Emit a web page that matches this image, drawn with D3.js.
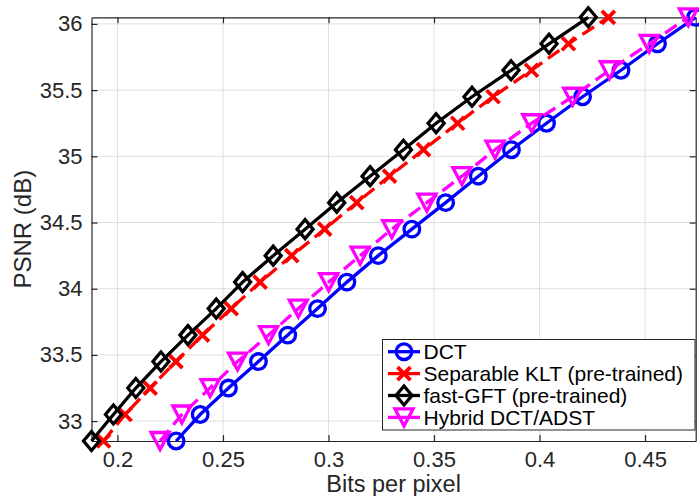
<!DOCTYPE html>
<html>
<head>
<style>
  html, body { margin: 0; padding: 0; background: #fff; }
  svg { font-family: "Liberation Sans", Arial, Helvetica, sans-serif; }
  .axis path, .axis line { stroke: #262626; stroke-width: 1.2; }
  .axis text { fill: #262626; font-size: 22px; }
</style>
</head>
<body>
<svg id="chart" width="699" height="496"></svg>
<script src="https://d3js.org/d3.v7.min.js"></script>
<script>
// PSNR levels (dB), shared by all four curves
const psnr = [32.85, 33.05, 33.25, 33.45, 33.65, 33.85, 34.05, 34.25, 34.45,
              34.65, 34.85, 35.05, 35.25, 35.45, 35.65, 35.85, 36.05];

// bits per pixel for each curve
const bppDCT = [0.2278, 0.2392, 0.2526, 0.2668, 0.2807, 0.2948, 0.3087, 0.3236, 0.3395,
                0.3555, 0.3710, 0.3867, 0.4033, 0.4204, 0.4386, 0.4559, 0.4740];
const bppKLT = [0.1934, 0.2036, 0.2155, 0.2277, 0.2403, 0.2539, 0.2676, 0.2826, 0.2982,
                0.3134, 0.3289, 0.3450, 0.3612, 0.3780, 0.3962, 0.4137, 0.4326];
const bppGFT = [0.1877, 0.1981, 0.2087, 0.2206, 0.2334, 0.2468, 0.2593, 0.2738, 0.2889,
                0.3039, 0.3197, 0.3355, 0.3510, 0.3680, 0.3865, 0.4045, 0.4231];
const bppHybrid = [0.2202, 0.2305, 0.2439, 0.2569, 0.2716, 0.2857, 0.3001, 0.3150, 0.3300,
                   0.3466, 0.3632, 0.3789, 0.3963, 0.4157, 0.4331, 0.4520, 0.4705];

const seriesNames = ["DCT", "Separable KLT (pre-trained)", "fast-GFT (pre-trained)", "Hybrid DCT/ADST"];
const xTicks = [0.2, 0.25, 0.3, 0.35, 0.4, 0.45];
const yTicks = [33, 33.5, 34, 34.5, 35, 35.5, 36];

const styles = [
  { color: "#0000ff", dash: null, marker: "circle" },
  { color: "#ff0000", dash: "14,7", marker: "cross" },
  { color: "#000000", dash: null, marker: "diamond" },
  { color: "#ff00ff", dash: "14,7", marker: "tri" }
];

const series = [bppDCT, bppKLT, bppGFT, bppHybrid].map((bpp, i) => ({
  name: seriesNames[i],
  style: styles[i],
  points: bpp.map((v, j) => ({ x: v, y: psnr[j] }))
}));

// plot box
const boxL = 91.5, boxR = 695.7, boxT = 17.3, boxB = 441;

const allX = [].concat(bppDCT, bppKLT, bppGFT, bppHybrid);
const x = d3.scaleLinear().domain(d3.extent(allX)).range([boxL, boxR]);
const y = d3.scaleLinear().domain(d3.extent(psnr)).range([boxB, boxT]);

const svg = d3.select("#chart");

// grid
svg.append("g").selectAll("line").data(xTicks).join("line")
  .attr("x1", d => x(d)).attr("x2", d => x(d))
  .attr("y1", boxT).attr("y2", boxB)
  .attr("stroke", "#dfdfdf").attr("stroke-width", 1);
svg.append("g").selectAll("line").data(yTicks).join("line")
  .attr("x1", boxL).attr("x2", boxR)
  .attr("y1", d => y(d)).attr("y2", d => y(d))
  .attr("stroke", "#dfdfdf").attr("stroke-width", 1);

// axes, ticks pointing inward on all four sides
svg.append("g").attr("class", "axis")
  .attr("transform", `translate(0,${boxB})`)
  .call(d3.axisBottom(x).tickValues(xTicks).tickFormat(d3.format("")).tickSizeInner(-6).tickSizeOuter(0).tickPadding(10));
svg.append("g").attr("class", "axis")
  .attr("transform", `translate(0,${boxT})`)
  .call(d3.axisTop(x).tickValues(xTicks).tickFormat("").tickSizeInner(-6).tickSizeOuter(0));
svg.append("g").attr("class", "axis")
  .attr("transform", `translate(${boxL},0)`)
  .call(d3.axisLeft(y).tickValues(yTicks).tickFormat(d3.format("")).tickSizeInner(-6).tickSizeOuter(0).tickPadding(9));
svg.append("g").attr("class", "axis")
  .attr("transform", `translate(${boxR},0)`)
  .call(d3.axisRight(y).tickValues(yTicks).tickFormat("").tickSizeInner(-6).tickSizeOuter(0));

// axis labels
svg.append("text")
  .attr("x", (boxL + boxR) / 2).attr("y", 492)
  .attr("text-anchor", "middle")
  .attr("fill", "#262626").style("font-size", "23.5px")
  .text("Bits per pixel");
svg.append("text")
  .attr("transform", `translate(31,${(boxT + boxB) / 2}) rotate(-90)`)
  .attr("text-anchor", "middle")
  .attr("fill", "#262626").style("font-size", "24px")
  .text("PSNR (dB)");

// marker shapes
function drawMarker(g, kind, color) {
  if (kind === "circle") {
    g.append("circle").attr("r", 7.8).attr("fill", "none")
      .attr("stroke", color).attr("stroke-width", 3.3);
  } else if (kind === "cross") {
    g.append("path").attr("d", "M-6.5,-6.5L6.5,6.5M-6.5,6.5L6.5,-6.5").attr("fill", "none")
      .attr("stroke", color).attr("stroke-width", 3.8);
  } else if (kind === "diamond") {
    g.append("path").attr("d", "M0,-9.5L8,0L0,9.5L-8,0Z").attr("fill", "none")
      .attr("stroke", color).attr("stroke-width", 3.3);
  } else {
    g.append("path").attr("d", "M-9,-8.5L9,-8.5L0,8.5Z").attr("fill", "none")
      .attr("stroke", color).attr("stroke-width", 3.3).attr("stroke-linejoin", "miter");
  }
}

const line = d3.line().x(d => x(d.x)).y(d => y(d.y));

series.forEach(s => {
  const g = svg.append("g");
  g.append("path").datum(s.points)
    .attr("d", line)
    .attr("fill", "none")
    .attr("stroke", s.style.color)
    .attr("stroke-width", 3.3)
    .attr("stroke-dasharray", s.style.dash);
  g.selectAll("g.m").data(s.points).join("g")
    .attr("class", "m")
    .attr("transform", d => `translate(${x(d.x)},${y(d.y)})`)
    .each(function() { drawMarker(d3.select(this), s.style.marker, s.style.color); });
});

// legend
const lg = svg.append("g");
lg.append("rect")
  .attr("x", 382.5).attr("y", 339.5).attr("width", 312.5).attr("height", 90.5)
  .attr("fill", "#fff").attr("stroke", "#262626").attr("stroke-width", 1);
series.forEach((s, i) => {
  const cy = 351.7 + i * 21.9;
  lg.append("line")
    .attr("x1", 388).attr("x2", 420).attr("y1", cy).attr("y2", cy)
    .attr("stroke", s.style.color).attr("stroke-width", 3.3);
  const m = lg.append("g").attr("transform", `translate(404,${cy})`);
  drawMarker(m, s.style.marker, s.style.color);
  lg.append("text")
    .attr("x", 423.5).attr("y", cy).attr("dy", "0.35em")
    .attr("fill", "#000").style("font-size", "21px")
    .text(s.name);
});
</script>
</body>
</html>
